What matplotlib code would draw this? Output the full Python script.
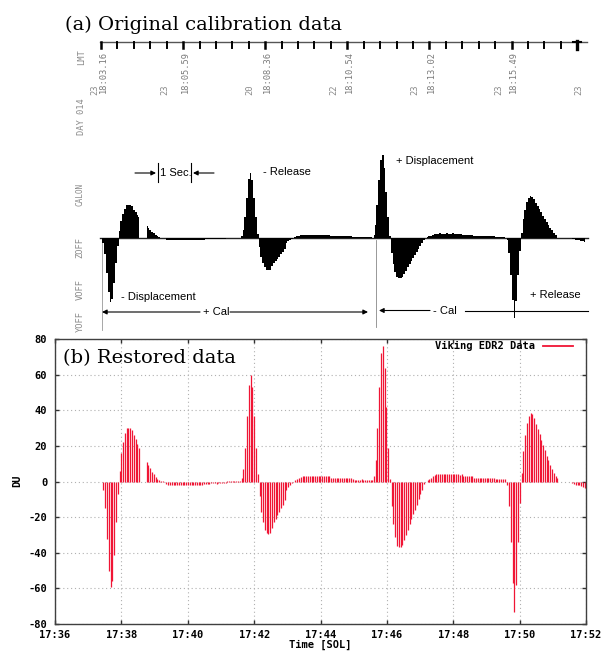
import numpy as np
import matplotlib.pyplot as plt
from matplotlib.lines import Line2D

plt.rcParams['axes.unicode_minus'] = False

W, H = 601, 651

# Viking EDR2 calibration pulse, DU values
# time is minutes after 17:00 (SOL), samples are DT apart inside a segment
DT = 0.054
seg_starts = [37.296, 38.763, 41.191, 45.605, 49.628, 51.586]

seg1 = [0, 0, 0, -5, -15, -32, -50, -59, -56, -41, -23, -7,
        6, 16, 22, 27, 30, 30, 30, 29, 26, 24, 21, 19]
seg2 = [11, 9, 7.5, 5.6, 4.3, 2.8, 1.5, 0.7, 0.3, 0.3, 0, -1.5,
        -2, -2, -2.2, -2.2, -2, -2, -2.2, -2.2, -2, -2, -2.2, -2, -2, -2,
        -2.2, -2, -2, -2, -1.8, -1.8, -1.5,
        -1.2, -1.2, -1.2, -1, -1, -1, -1.2, -1, -1, -1, -1, -1]
seg3 = [0.3, 0.3, 0.2, 0.3, 0.3, 0.2, 0.3, 0.4, 1.7, 7, 19, 37, 54, 60, 53,
        37, 19, 4, -8, -17, -23, -27, -29, -29.5, -29, -26, -23, -21, -19,
        -17, -15, -13, -10.5, -5, -3, -2, -1, 0, 1, 1.5, 2, 2.5,
        3, 3, 3.2, 3.2, 3, 3, 3.2, 3, 3, 3.2, 3.2, 3, 3, 3, 3.2, 3,
        2.2, 2, 2, 2, 2.2, 2, 2, 2, 2, 2.2, 2, 2,
        1.2, 1, 1, 1, 1, 1.2, 1, 1, 1, 1, 1, 1]
seg4 = [3, 12, 30, 53, 72, 76, 64, 42, 19, 1.5, -13.5, -24, -31, -36, -37,
        -37, -35.5, -33, -30, -27, -24, -21, -18, -16, -13, -10, -7, -4.5,
        -1.5, 0, 1, 1.5, 2, 3,
        3.8, 4, 4, 4.2, 4, 4, 4, 4.2, 4, 4, 4.2, 4, 4, 4, 3.8, 4,
        3.2, 3, 3, 3, 3.2, 3,
        2.2, 2, 2, 2, 2.2, 2, 2, 2, 2, 2, 2.2, 2,
        1.3, 1.2, 1.3, 1.3, 1.2, 1.3]
seg5 = [-2, -14, -34, -57, -73, -58, -34, -12, 4.7, 17, 26, 33, 36.5, 38.5,
        38, 35.5, 32.5, 29.5, 26.5, 23.5, 20.5, 17.5, 14.5, 12, 9.5, 7, 5,
        3, 1.8]
seg6 = [-0.6, -1.3, -1.9, -1.9, -2, -2.4, -3.2, -3.5]
segments = [seg1, seg2, seg3, seg4, seg5, seg6]

xticks = [36, 38, 40, 42, 44, 46, 48, 50, 52]
xtick_labels = ['17:36', '17:38', '17:40', '17:42', '17:44',
                '17:46', '17:48', '17:50', '17:52']
yticks = [-80, -60, -40, -20, 0, 20, 40, 60, 80]

# labels of the scanned chart record
ruler_times = ['18:03.16', '18:05.59', '18:08.36', '18:10.54', '18:13.02', '18:15.49']
ruler_days = ['23', '23', '20', '22', '23', '23', '23']
channels = ['LMT', 'DAY 014', 'CALON', 'ZOFF', 'VOFF', 'YOFF']

RED = '#f01535'
MONO = dict(family='DejaVu Sans Mono', weight='bold', size=7.5)
SANS = dict(family='Liberation Sans', size=8)


def fx(px):
    return px / W


def fy(py):
    return 1 - py / H


fig = plt.figure(figsize=(W / 100, H / 100), dpi=100)

# overlay in pixel units for the scanned decorations of panel (a)
deco = fig.add_axes([0, 0, 1, 1])
deco.set_xlim(0, W)
deco.set_ylim(H, 0)
deco.axis('off')

fig.text(fx(65), fy(30), '(a) Original calibration data', family='DejaVu Serif',
         size=14, va='baseline', ha='left')

# chart ruler
deco.plot([100, 587], [42, 42], color='#555555', lw=1)
for k, x in enumerate(np.arange(101, 562, 16.42)):
    deco.plot([x, x], [42, 48], color='black', lw=1.8 if k % 5 == 0 else 1.4)
deco.plot([576.7, 576.7], [41, 49], color='black', lw=2.4)
deco.plot([573, 581], [41.5, 41.5], color='black', lw=1.5)

major_x = [101 + 82.1 * k for k in range(6)]
for x, lab in zip(major_x, ruler_times):
    deco.text(x + 2, 93, lab, rotation=90, ha='center', va='bottom',
              family='DejaVu Sans Mono', size=6.3, color='#7a7a7a')
day_x = [95, 165, 250, 334, 415, 499, 579]
for x, lab in zip(day_x, ruler_days):
    deco.text(x, 95, lab, rotation=90, ha='center', va='bottom',
              family='DejaVu Sans Mono', size=6.3, color='#8a8a8a')

chan_pos = [(82, 57), (82, 117), (80, 194), (80, 248), (80, 290), (80, 321)]
for (x, y), lab in zip(chan_pos, channels):
    deco.text(x, y, lab, rotation=90, ha='center', va='center',
              family='DejaVu Sans Mono', size=5.6 if lab == 'CALON' else 6.3,
              color='#8a8a8a')

# baseline and marker lines of the record
deco.plot([100, 588], [238, 238], color='#222222', lw=1)
deco.plot([102, 102], [238, 330], color='#999999', lw=0.6)
deco.plot([376, 376], [240, 327], color='#888888', lw=0.6)

arrow = dict(arrowstyle='-|>', lw=0.8, color='black', mutation_scale=7,
             shrinkA=0, shrinkB=0)
# 1 Sec. scale
deco.annotate('', xy=(156, 173), xytext=(135, 173), arrowprops=arrow)
deco.annotate('', xy=(193, 173), xytext=(214, 173), arrowprops=arrow)
deco.plot([157.7, 157.7], [163, 182], color='black', lw=0.8)
deco.plot([191, 191], [163, 182], color='black', lw=0.8)
deco.text(160, 173, '1 Sec.', va='center', ha='left', **SANS)

deco.text(263, 172, '- Release', va='center', ha='left', **SANS)
deco.text(396, 161, '+ Displacement', va='center', ha='left', **SANS)
deco.text(121, 297, '- Displacement', va='center', ha='left', **SANS)
deco.text(530, 295, '+ Release', va='center', ha='left', **SANS)

# +Cal / -Cal intervals
deco.annotate('', xy=(102, 312), xytext=(200, 312), arrowprops=arrow)
deco.annotate('', xy=(368, 312), xytext=(230, 312), arrowprops=arrow)
deco.text(203, 312, '+ Cal', va='center', ha='left', **SANS)
deco.annotate('', xy=(379, 310.5), xytext=(430, 310.5), arrowprops=arrow)
deco.plot([465, 588], [310.5, 310.5], color='black', lw=0.8)
deco.text(433, 310.5, '- Cal', va='center', ha='left', **SANS)

# panel (a) trace: same samples, drawn as a filled chart-recorder trace
PXDU = 1.09
axa = fig.add_axes([fx(55), fy(335), 531 / W, 335 / H])
axa.set_xlim(36, 52)
axa.set_ylim(-(335 - 238) / PXDU, 238 / PXDU)
axa.axis('off')
for start, vals in zip(seg_starts, segments):
    t = start + DT * np.arange(len(vals))
    axa.fill_between(t, vals, 0, step='mid', color='black', lw=0)

# panel (b): restored data
ax = fig.add_axes([fx(55), fy(624), 531 / W, 285 / H])
for start, vals in zip(seg_starts, segments):
    t = start + DT * np.arange(len(vals))
    ax.vlines(t, 0, vals, color=RED, lw=0.9)

ax.set_xlim(36, 52)
ax.set_ylim(-80, 80)
ax.set_xticks(xticks)
ax.set_xticklabels(xtick_labels)
ax.set_yticks(yticks)
ax.set_axisbelow(True)
ax.grid(True, ls=(0, (1, 2.5)), color='#b0b0b0', lw=0.8)
ax.tick_params(direction='in', length=3, width=1, top=True, right=True,
               color='#303030')
ax.tick_params(axis='y', pad=5.5)
ax.tick_params(axis='x', pad=4)
for lab in ax.get_xticklabels() + ax.get_yticklabels():
    lab.set_fontproperties(MONO)
for sp in ax.spines.values():
    sp.set_color('#404040')
    sp.set_linewidth(1)

fig.text(fx(17), fy(481), 'DU', rotation=90, ha='center', va='center', **MONO)
fig.text(fx(320.5), fy(645), 'Time [SOL]', ha='center', va='center', **MONO)

# key
fig.text(fx(535), fy(346), 'Viking EDR2 Data', ha='right', va='center', **MONO)
fig.add_artist(Line2D([fx(543), fx(573)], [fy(346), fy(346)], color=RED, lw=1.3))

fig.text(fx(63), fy(363), '(b) Restored data', family='DejaVu Serif',
         size=14, va='baseline', ha='left')

fig.savefig('out.png', dpi=100)
